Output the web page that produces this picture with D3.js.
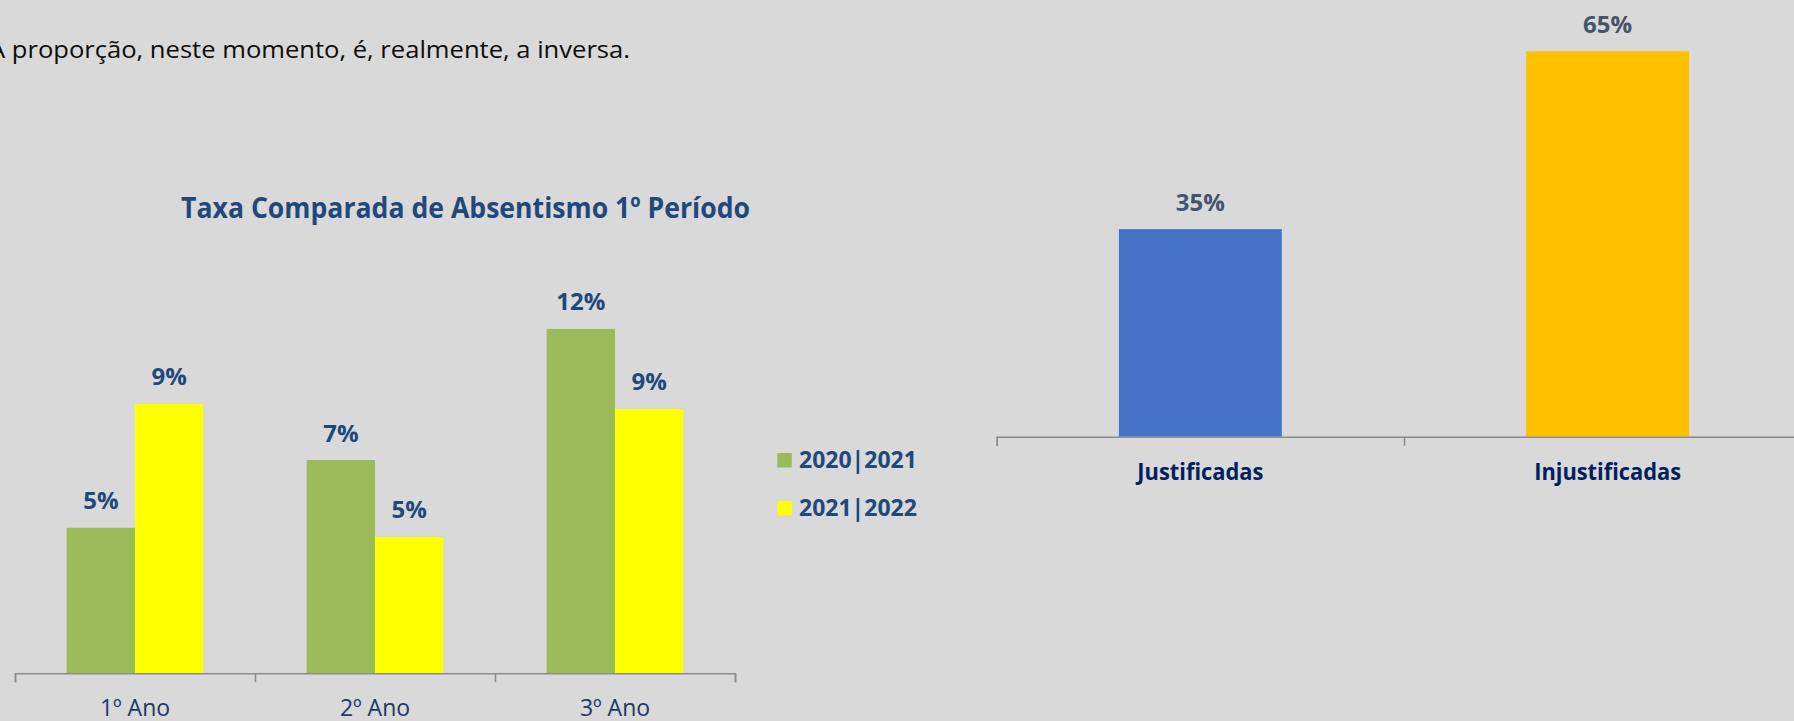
<!DOCTYPE html>
<html>
<head>
<meta charset="utf-8">
<script src="https://cdn.jsdelivr.net/npm/d3@7"></script>
<style>
  html, body { margin: 0; padding: 0; background: #d9d9d9; overflow: hidden; }
  svg { display: block; font-family: "Open Sans", sans-serif; }
</style>
</head>
<body>
<svg id="chart"></svg>
<script>
// left chart: absentismo por ano
const anos = ["1º Ano", "2º Ano", "3º Ano"];
const series = ["2020|2021", "2021|2022"];
const taxa2021 = [0.0507, 0.0743, 0.120];
const taxa2022 = [0.0939, 0.0475, 0.0921];

// right chart: tipo de faltas
const tipos = ["Justificadas", "Injustificadas"];
const faltas = [0.35, 0.65];

const width = 1794, height = 721;

const svg = d3.select("#chart")
  .attr("width", width)
  .attr("height", height);

svg.append("rect")
  .attr("width", width)
  .attr("height", height)
  .attr("fill", "#d9d9d9");

const pct = d3.format(".0%");

// squeeze a text to the width it has in the original
function fitWidth(sel, w) {
  sel.attr("textLength", w).attr("lengthAdjust", "spacingAndGlyphs");
}

svg.append("text")
  .attr("x", -11)
  .attr("y", 58)
  .attr("font-size", 24)
  .attr("fill", "#0d0d0d")
  .text("A proporção, neste momento, é, realmente, a inversa.")
  .call(fitWidth, 641);

// ---------- left chart
const x0 = d3.scaleBand().domain(anos).range([15, 735]);
const x1 = d3.scaleBand().domain(series).range([51.7, 188.3]);
const y = d3.scaleLinear().domain([0, 0.14]).range([673.3, 271.5]);
const color = d3.scaleOrdinal().domain(series).range(["#9bbb59", "#ffff00"]);

const rows = anos.map((a, i) => ({
  ano: a,
  values: [
    { s: series[0], v: taxa2021[i] },
    { s: series[1], v: taxa2022[i] }
  ]
}));

svg.append("text")
  .attr("x", 181)
  .attr("y", 217.5)
  .attr("font-size", 29)
  .attr("font-weight", "bold")
  .attr("fill", "#1f497d")
  .text("Taxa Comparada de Absentismo 1º Período")
  .call(fitWidth, 569);

const groups = svg.selectAll(".ano")
  .data(rows)
  .join("g")
  .attr("class", "ano")
  .attr("transform", d => `translate(${x0(d.ano)},0)`);

groups.selectAll("rect")
  .data(d => d.values)
  .join("rect")
  .attr("x", d => x1(d.s))
  .attr("y", d => y(d.v))
  .attr("width", x1.bandwidth())
  .attr("height", d => y(0) - y(d.v))
  .attr("fill", d => color(d.s));

groups.selectAll("text")
  .data(d => d.values)
  .join("text")
  .attr("x", d => x1(d.s) + x1.bandwidth() / 2)
  .attr("y", d => y(d.v) - 18.5)
  .attr("text-anchor", "middle")
  .attr("font-size", 24)
  .attr("font-weight", "bold")
  .attr("fill", "#1f497d")
  .text(d => pct(d.v));

// category boundaries, excel style ticks
const xEdge = d3.scaleLinear().domain([0, anos.length]).range(x0.range());
svg.append("g")
  .attr("transform", `translate(0,${y(0)})`)
  .call(d3.axisBottom(xEdge).tickValues(d3.range(anos.length + 1)).tickSize(9).tickFormat(""))
  .call(g => g.selectAll("path, line").attr("stroke", "#8c8c8c").attr("stroke-width", 1.5));

svg.append("g")
  .attr("transform", `translate(0,${y(0)})`)
  .call(d3.axisBottom(x0).tickSize(0).tickPadding(26))
  .call(g => g.select(".domain").remove())
  .call(g => g.selectAll("text")
    .attr("font-family", "Open Sans, sans-serif")
    .attr("font-size", 23)
    .attr("fill", "#1f3864"));

// legend
const legend = svg.selectAll(".leg")
  .data(series)
  .join("g")
  .attr("class", "leg")
  .attr("transform", (d, i) => `translate(777.3,${453 + i * 48})`);

legend.append("rect")
  .attr("width", 14.5)
  .attr("height", 14.5)
  .attr("fill", d => color(d));

legend.append("text")
  .attr("x", 21.7)
  .attr("y", 15.3)
  .attr("font-size", 23)
  .attr("font-weight", "bold")
  .attr("fill", "#1f497d")
  .text(d => d);

// ---------- right chart
const xr = d3.scaleBand().domain(tipos).range([996.7, 1811.3]);
const yr = d3.scaleLinear().domain([0, 0.7]).range([436.7, 21.6]);
const colorR = d3.scaleOrdinal().domain(tipos).range(["#4472c4", "#ffc000"]);
const barW = xr.bandwidth() * 0.4;

svg.selectAll(".tipo")
  .data(tipos)
  .join("rect")
  .attr("class", "tipo")
  .attr("x", d => xr(d) + (xr.bandwidth() - barW) / 2)
  .attr("y", (d, i) => yr(faltas[i]))
  .attr("width", barW)
  .attr("height", (d, i) => yr(0) - yr(faltas[i]))
  .attr("fill", d => colorR(d));

svg.selectAll(".tipoLabel")
  .data(tipos)
  .join("text")
  .attr("class", "tipoLabel")
  .attr("x", d => xr(d) + xr.bandwidth() / 2)
  .attr("y", (d, i) => yr(faltas[i]) - 18.5)
  .attr("text-anchor", "middle")
  .attr("font-size", 24)
  .attr("font-weight", "bold")
  .attr("fill", "#44546a")
  .text((d, i) => pct(faltas[i]));

const xrEdge = d3.scaleLinear().domain([0, tipos.length]).range(xr.range());
svg.append("g")
  .attr("transform", `translate(0,${yr(0)})`)
  .call(d3.axisBottom(xrEdge).tickValues(d3.range(tipos.length + 1)).tickSize(9).tickFormat(""))
  .call(g => g.selectAll("path, line").attr("stroke", "#8c8c8c").attr("stroke-width", 1.5));

svg.append("g")
  .attr("transform", `translate(0,${yr(0)})`)
  .call(d3.axisBottom(xr).tickSize(0).tickPadding(26.3))
  .call(g => g.select(".domain").remove())
  .call(g => g.selectAll("text")
    .attr("font-family", "Open Sans, sans-serif")
    .attr("font-size", 24)
    .attr("font-weight", "bold")
    .attr("fill", "#002060")
    // keep the narrow look of the original labels
    .each(function () {
      const w = this.getComputedTextLength();
      d3.select(this).call(fitWidth, w * 0.91);
    }));
</script>
</body>
</html>
